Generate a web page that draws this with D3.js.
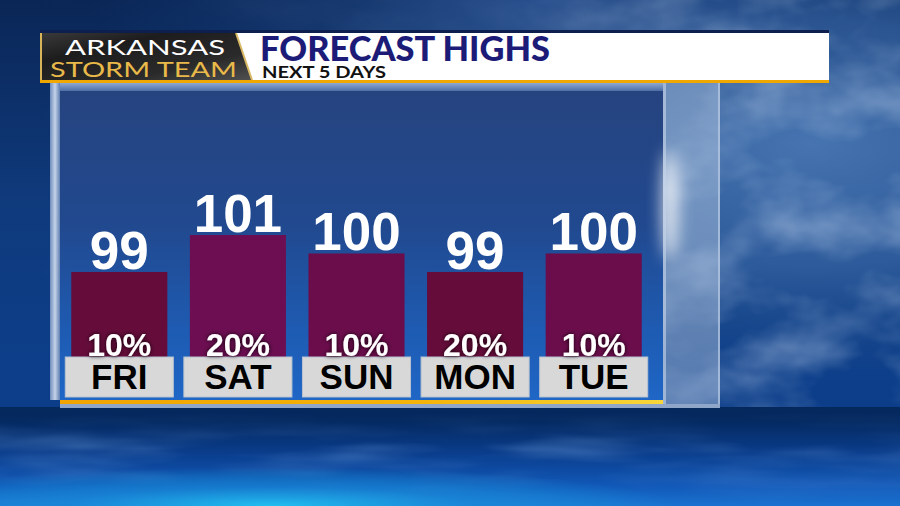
<!DOCTYPE html>
<html><head><meta charset="utf-8">
<script src="https://cdn.jsdelivr.net/npm/d3@7/dist/d3.min.js"></script>
<style>html,body{margin:0;padding:0;background:#0b2a5e;overflow:hidden}svg{display:block}</style>
</head><body><svg id="c" width="900" height="506"></svg>
<script>
const days = ["FRI","SAT","SUN","MON","TUE"];
const highs = [99,101,100,99,100];
const rainChance = ["10%","20%","10%","20%","10%"];
const title = "FORECAST HIGHS";
const subtitle = "NEXT 5 DAYS";
const brandTop = "ARKANSAS";
const brandBottom = "STORM TEAM";

const svg = d3.select("#c");
const defs = svg.append("defs");
function lin(id, x1,y1,x2,y2, stops){
  const g = defs.append("linearGradient").attr("id",id).attr("x1",x1).attr("y1",y1).attr("x2",x2).attr("y2",y2);
  stops.forEach(s=>g.append("stop").attr("offset",s[0]).attr("stop-color",s[1]).attr("stop-opacity",s[2]==null?1:s[2]));
}
function rad(id,cx,cy,r,stops){
  const g = defs.append("radialGradient").attr("id",id).attr("cx",cx).attr("cy",cy).attr("r",r);
  stops.forEach(s=>g.append("stop").attr("offset",s[0]).attr("stop-color",s[1]).attr("stop-opacity",s[2]==null?1:s[2]));
}
lin("bg","0","0","0","1",[[0,"#0a2656"],[0.4,"#0f3a7c"],[0.75,"#0c3e8a"],[1,"#0b3a84"]]);
rad("cloudR","0.9","0.35","0.6",[[0,"#4a78b4",0.95],[0.5,"#3a68a6",0.7],[1,"#1c4a8a",0]]);
rad("cloudT","0.6","0.0","0.5",[[0,"#30599a",0.7],[1,"#1c4a8a",0]]);
lin("floor","0","0","0","1",[[0,"#05285c"],[0.15,"#052a62"],[0.45,"#0a3c8a"],[0.8,"#1158b8"],[1,"#1a72d0"]]);
rad("cyan","0.3","1.0","0.45",[[0,"#22c4f2",0.95],[0.5,"#1a9ae0",0.5],[1,"#19b8ee",0]]);
lin("panel","0","0","0","1",[[0,"#26437e"],[0.45,"#21498f"],[0.8,"#1e5cb4"],[1,"#1f66c6"]]);
lin("panelTop","0","0","0","1",[[0,"#8ea8cf"],[1,"#4d6fa6"]]);
lin("glassL","0","0","1","0",[[0,"#6f8cbc"],[0.5,"#c4d3e8"],[1,"#5f7fb2"]]);
lin("goldLine","0","0","1","0",[[0,"#f1a400"],[0.6,"#f4b40a"],[1,"#f6d63a"]]);
lin("logo","0","0","1","1",[[0,"#3a3a3a"],[0.3,"#1d1d1d"],[0.7,"#2a2a2a"],[1,"#505050"]]);
lin("cmaskG","0","0","1","0",[[0,"#000"],[0.55,"#333"],[0.8,"#fff"],[1,"#fff"]]);
lin("fmaskG","0","0","0","1",[[0,"#000"],[0.4,"#fff"],[1,"#000"]]);

const f = defs.append("filter").attr("id","clouds").attr("x",0).attr("y",0).attr("width",1).attr("height",1);
f.append("feTurbulence").attr("type","fractalNoise").attr("baseFrequency","0.01 0.016").attr("numOctaves",4).attr("seed",11).attr("result","n");
f.append("feColorMatrix").attr("in","n").attr("type","matrix")
 .attr("values","0 0 0 0 0.6  0 0 0 0 0.72  0 0 0 0 0.9  1.8 0 0 0 -0.7");
const f2 = defs.append("filter").attr("id","streaks").attr("x",0).attr("y",0).attr("width",1).attr("height",1);
f2.append("feTurbulence").attr("type","fractalNoise").attr("baseFrequency","0.006 0.04").attr("numOctaves",3).attr("seed",3).attr("result","n");
f2.append("feColorMatrix").attr("in","n").attr("type","matrix")
 .attr("values","0 0 0 0 0.3  0 0 0 0 0.55  0 0 0 0 0.95  1.8 0 0 0 -0.7");
const blur = defs.append("filter").attr("id","blur").attr("x","-100%").attr("y","-100%").attr("width","300%").attr("height","300%");
blur.append("feGaussianBlur").attr("stdDeviation",8);
const sh = defs.append("filter").attr("id","shadow").attr("x","-20%").attr("y","-20%").attr("width","140%").attr("height","140%");
sh.append("feDropShadow").attr("dx",0).attr("dy",0).attr("stdDeviation",2).attr("flood-color","#000").attr("flood-opacity",0.9);
const mask = defs.append("mask").attr("id","cmask");
mask.append("rect").attr("width",900).attr("height",410).attr("fill","url(#cmaskG)");
const fmask = defs.append("mask").attr("id","fmask");
fmask.append("rect").attr("x",0).attr("y",412).attr("width",900).attr("height",94).attr("fill","url(#fmaskG)");

// background
svg.append("rect").attr("width",900).attr("height",506).attr("fill","url(#bg)");
svg.append("rect").attr("width",900).attr("height",410).attr("fill","url(#cloudR)");
svg.append("rect").attr("width",900).attr("height",300).attr("fill","url(#cloudT)");
svg.append("rect").attr("x",0).attr("y",0).attr("width",900).attr("height",410).attr("filter","url(#clouds)").attr("mask","url(#cmask)").attr("opacity",0.45);
svg.append("rect").attr("x",0).attr("y",407).attr("width",900).attr("height",99).attr("fill","url(#floor)");
svg.append("rect").attr("x",0).attr("y",412).attr("width",900).attr("height",94).attr("filter","url(#streaks)").attr("mask","url(#fmask)").attr("opacity",0.35);
svg.append("rect").attr("x",0).attr("y",420).attr("width",900).attr("height",86).attr("fill","url(#cyan)");

// panel
const px0 = 60, px1 = 663, pyTop = 83, pyBot = 400;
svg.append("rect").attr("x",px0).attr("y",pyTop).attr("width",px1-px0).attr("height",pyBot-pyTop).attr("fill","url(#panel)");
svg.append("rect").attr("x",px0).attr("y",pyTop).attr("width",px1-px0).attr("height",8).attr("fill","url(#panelTop)");
svg.append("rect").attr("x",50).attr("y",pyTop).attr("width",10).attr("height",pyBot-pyTop).attr("fill","url(#glassL)");
svg.append("rect").attr("x",px1).attr("y",pyTop).attr("width",57).attr("height",325).attr("fill","#c4d4ea").attr("opacity",0.42);
svg.append("ellipse").attr("cx",670).attr("cy",205).attr("rx",8).attr("ry",55).attr("fill","#ffffff").attr("opacity",0.8).attr("filter","url(#blur)");
svg.append("rect").attr("x",px1).attr("y",pyTop).attr("width",3).attr("height",325).attr("fill","#c8d6ea").attr("opacity",0.6);
svg.append("rect").attr("x",718).attr("y",pyTop).attr("width",2).attr("height",325).attr("fill","#b9cbe4").attr("opacity",0.7);
svg.append("rect").attr("x",px0).attr("y",pyBot).attr("width",px1-px0).attr("height",4).attr("fill","url(#goldLine)");
svg.append("rect").attr("x",px0).attr("y",pyBot+4).attr("width",660).attr("height",4).attr("fill","#8fa6c9");

// scales
const x = d3.scaleBand().domain(days).range([60,653]).paddingInner(0.19).paddingOuter(0.095);
const y = d3.scaleLinear().domain([94.4,101]).range([357,235]);
const color = d3.scaleOrdinal().domain([99,100,101]).range(["#650c3a","#6b0d4b","#6c0e51"]);

const g = svg.append("g");
g.selectAll("rect.bar").data(days).join("rect").attr("class","bar")
  .attr("x",d=>x(d)).attr("width",x.bandwidth())
  .attr("y",(d,i)=>y(highs[i])).attr("height",(d,i)=>y(94.4)-y(highs[i]))
  .attr("fill",(d,i)=>color(highs[i]));
g.selectAll("text.temp").data(days).join("text").attr("class","temp")
  .attr("x",d=>x(d)+x.bandwidth()/2).attr("y",(d,i)=>y(highs[i])-3)
  .attr("text-anchor","middle").attr("fill","#fff")
  .attr("font-family","Liberation Sans, Arial, sans-serif").attr("font-weight","bold").attr("font-size",53)
  .text((d,i)=>highs[i]);
g.selectAll("rect.box").data(days).join("rect").attr("class","box")
  .attr("x",d=>x(d)-6).attr("width",x.bandwidth()+12).attr("y",357).attr("height",40)
  .attr("fill","#d9d8d8").attr("stroke","#b8c2d0").attr("stroke-width",1);
g.selectAll("text.pct").data(days).join("text").attr("class","pct")
  .attr("x",d=>x(d)+x.bandwidth()/2).attr("y",356)
  .attr("text-anchor","middle").attr("fill","#fff").attr("filter","url(#shadow)")
  .attr("font-family","Liberation Sans, Arial, sans-serif").attr("font-weight","bold").attr("font-size",32)
  .text((d,i)=>rainChance[i]);
g.selectAll("text.day").data(days).join("text").attr("class","day")
  .attr("x",d=>x(d)+x.bandwidth()/2).attr("y",389)
  .attr("text-anchor","middle").attr("fill","#000")
  .attr("font-family","Liberation Sans, Arial, sans-serif").attr("font-weight","bold").attr("font-size",35)
  .text(d=>d);

// header
svg.append("rect").attr("x",40).attr("y",30).attr("width",789).attr("height",3).attr("fill","#0c1f4f");
svg.append("rect").attr("x",40).attr("y",33).attr("width",789).attr("height",47).attr("fill","#fff");
svg.append("rect").attr("x",40).attr("y",80).attr("width",789).attr("height",3).attr("fill","#f0a800");
svg.append("polygon").attr("points","40,33 236,33 252,80 40,80").attr("fill","url(#logo)");
svg.append("polyline").attr("points","236,33 252,80").attr("stroke","#d9b864").attr("stroke-width",2).attr("fill","none");
svg.append("rect").attr("x",40).attr("y",33).attr("width",2).attr("height",47).attr("fill","#d8b45a");
svg.append("text").attr("x",65).attr("y",55).attr("textLength",160).attr("lengthAdjust","spacingAndGlyphs")
  .attr("font-family","Lato, Noto Sans, sans-serif").attr("font-size",22).attr("fill","#fff").text(brandTop);
svg.append("text").attr("x",50).attr("y",77).attr("textLength",187).attr("lengthAdjust","spacingAndGlyphs")
  .attr("font-family","Lato, Noto Sans, sans-serif").attr("font-size",22).attr("fill","#e9b949").text(brandBottom);
svg.append("text").attr("x",260).attr("y",61).attr("textLength",290).attr("lengthAdjust","spacingAndGlyphs")
  .attr("font-family","Lato, Noto Sans, sans-serif").attr("font-weight",900).attr("font-size",35).attr("fill","#1c1c78").text(title);
svg.append("text").attr("x",262).attr("y",77.5).attr("textLength",124).attr("lengthAdjust","spacingAndGlyphs")
  .attr("font-family","Lato, Noto Sans, sans-serif").attr("font-weight","bold").attr("font-size",17).attr("fill","#111").text(subtitle);
</script></body></html>
